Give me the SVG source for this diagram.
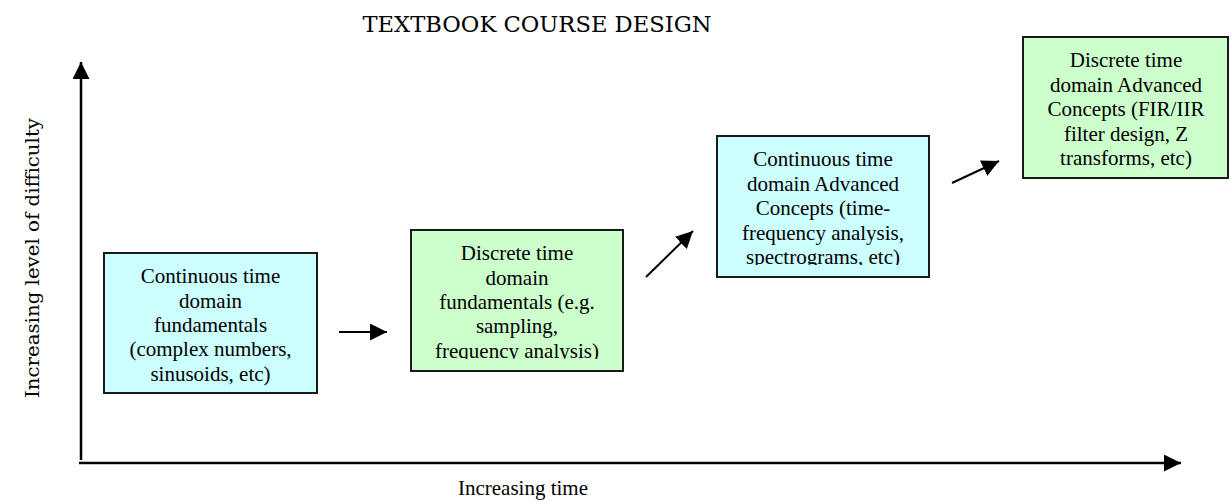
<svg xmlns="http://www.w3.org/2000/svg" width="1230" height="502" viewBox="0 0 1230 502">
<style>
.box{stroke:#1a1a1a;stroke-width:2}
.cyan{fill:#ccffff}
.green{fill:#ccffcc}
.t{font-family:"Liberation Serif","Times New Roman",serif;font-size:21px;fill:#000;text-anchor:middle}
.mono{font-family:"DejaVu Serif","Liberation Serif",serif;fill:#000;font-weight:normal}
.conn{stroke:#000;stroke-width:2;fill:none}
.axis{stroke:#000;stroke-width:2.5;fill:none}
</style>
<defs>
<marker id="ah" markerUnits="userSpaceOnUse" markerWidth="17" markerHeight="17" refX="16" refY="8" orient="auto" viewBox="0 0 16 16">
<path d="M0,0 L16,8 L0,16 z" fill="#000"/>
</marker>
<clipPath id="c2"><rect x="411" y="230" width="212" height="129"/></clipPath>
<clipPath id="c3"><rect x="717" y="136" width="212" height="129"/></clipPath>
</defs>
<rect width="1230" height="502" fill="#fff"/>
<text class="mono" x="537" y="32" font-size="22" text-anchor="middle" textLength="349" lengthAdjust="spacingAndGlyphs">TEXTBOOK COURSE DESIGN</text>
<text class="mono" transform="translate(39,258) rotate(-90)" x="0" y="0" font-size="18" text-anchor="middle" textLength="280" lengthAdjust="spacingAndGlyphs">Increasing level of difficulty</text>
<text class="t" x="523" y="495">Increasing time</text>
<g id="connectors">
<line class="axis" x1="81" y1="460" x2="81" y2="62" marker-end="url(#ah)"/>
<line class="axis" x1="79" y1="463" x2="1181" y2="463" marker-end="url(#ah)"/>
<line class="conn" x1="339" y1="332" x2="387" y2="332" marker-end="url(#ah)"/>
<line class="conn" x1="646" y1="277" x2="693" y2="231" marker-end="url(#ah)"/>
<line class="conn" x1="952" y1="183" x2="999" y2="161" marker-end="url(#ah)"/>
</g>
<g id="node1">
<rect class="box cyan" x="104" y="253" width="213" height="140"/>
<text class="t" x="210.5" y="283">Continuous time</text>
<text class="t" x="210.5" y="307.5">domain</text>
<text class="t" x="210.5" y="332">fundamentals</text>
<text class="t" x="210.5" y="356">(complex numbers,</text>
<text class="t" x="210.5" y="380.5">sinusoids, etc)</text>
</g>
<g id="node2">
<rect class="box green" x="411" y="230" width="212" height="141"/>
<g clip-path="url(#c2)">
<text class="t" x="517" y="260">Discrete time</text>
<text class="t" x="517" y="284.5">domain</text>
<text class="t" x="517" y="309">fundamentals (e.g.</text>
<text class="t" x="517" y="333">sampling,</text>
<text class="t" x="517" y="357.5">frequency analysis)</text>
</g>
</g>
<g id="node3">
<rect class="box cyan" x="717" y="136" width="212" height="141"/>
<g clip-path="url(#c3)">
<text class="t" x="823" y="166">Continuous time</text>
<text class="t" x="823" y="190.5">domain Advanced</text>
<text class="t" x="823" y="215">Concepts (time-</text>
<text class="t" x="823" y="239.5">frequency analysis,</text>
<text class="t" x="823" y="264">spectrograms, etc)</text>
</g>
</g>
<g id="node4">
<rect class="box green" x="1023" y="37" width="205" height="141"/>
<text class="t" x="1126" y="67">Discrete time</text>
<text class="t" x="1126" y="91.5">domain Advanced</text>
<text class="t" x="1126" y="116">Concepts (FIR/IIR</text>
<text class="t" x="1126" y="140.5">filter design, Z</text>
<text class="t" x="1126" y="165">transforms, etc)</text>
</g>
</svg>
